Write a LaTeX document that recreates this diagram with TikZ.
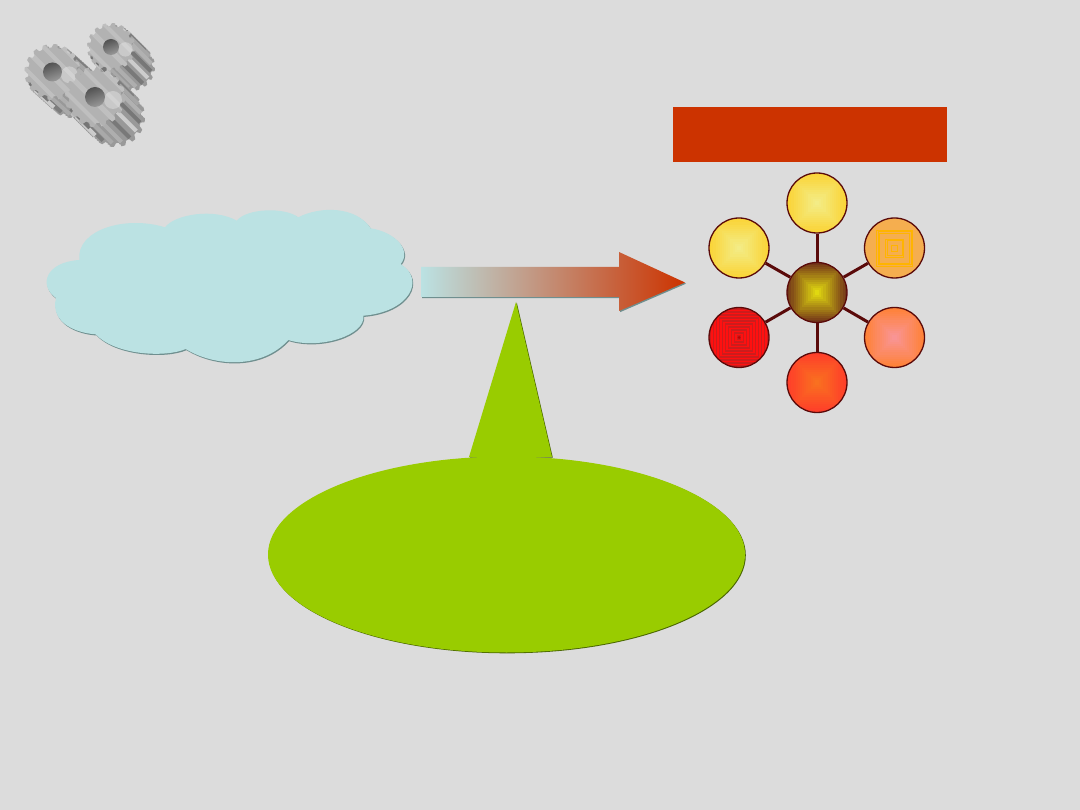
\documentclass[tikz,border=0pt]{standalone}
\definecolor{page}{HTML}{DCDCDC}
\definecolor{cloudfill}{HTML}{BBE2E3}
\definecolor{cloudedge}{HTML}{6F8F8F}
\definecolor{banner}{HTML}{CC3300}
\definecolor{leaf}{HTML}{99CC00}
\definecolor{leafedge}{HTML}{4A6600}
\definecolor{spoke}{HTML}{5A0A0A}
\definecolor{sunO}{HTML}{FBD230}\definecolor{sunI}{HTML}{F3EC86}
\definecolor{ambO}{HTML}{F5AE4F}\definecolor{ambI}{HTML}{FFB400}
\definecolor{peachO}{HTML}{FF8030}\definecolor{peachI}{HTML}{F99494}
\definecolor{flameO}{HTML}{FF3A2A}\definecolor{flameI}{HTML}{F97020}
\definecolor{rubyO}{HTML}{CC1C1C}\definecolor{rubyL}{HTML}{FF1010}
\definecolor{hubO}{HTML}{6B2A1A}\definecolor{hubI}{HTML}{E0D810}
% concentric square gradient filling a round node
\newcommand\squarerings[2]{%
  \foreach \i in {0,...,14}{%
    \pgfmathsetmacro\hs{32*(1-\i/15)}%
    \pgfmathsetmacro\mixp{100*\i/14}%
    \fill[#2!\mixp!#1] ([shift={(-\hs,-\hs)}]path picture bounding box.center)
      rectangle ([shift={(\hs,\hs)}]path picture bounding box.center);
  }}
% thin square outlines laid over the gradient
\newcommand\squarelines[3]{%
  \foreach \hs in {#2}{%
    \draw[#1,line width=#3] ([shift={(-\hs,-\hs)}]path picture bounding box.center)
      rectangle ([shift={(\hs,\hs)}]path picture bounding box.center);
  }}
% toothed wheel: swept body, ribs, top face with bands, and bore
\newcommand\gearfig[6]{% cx cy radius dx dy bore
  \begin{scope}[shift={(#1,#2)}]
    \def\rim{plot[domain=0:360,samples=145] (\x:{#3*(0.87+0.13*max(0,min(1,0.5+1.5*sin(16*\x))))})}
    \foreach \k in {0.1,0.2,...,1.0}{
      \fill[black!40,shift={(#4*\k,#5*\k)}] \rim -- cycle;
    }
    \foreach \a in {-66,-46,...,154}{
      \pgfmathsetmacro\g{38+18*sin(\a*7.3+20)}
      \draw[black!\g,line width=4pt] (\a:{#3*0.9}) -- ++({#4*0.95},{#5*0.95});
    }
    \begin{scope}
      \clip \rim -- cycle;
      \fill[black!30] (-#3-2,-#3-2) rectangle (#3+2,#3+2);
      \foreach \o/\w in {-22/5,-12/4,-2/5,8/4,18/5}{
        \draw[white,opacity=.18,line width=\w pt] (-#3-8+\o,-#3-8-\o) -- (#3+8+\o,#3+8-\o);
      }
      \fill[white,opacity=.30] (#3*.6,#3*.1) circle ({#3*.3});
    \end{scope}
    \shade[left color=black!68,right color=black!40,shading angle=20] (0,0) circle (#6);
  \end{scope}}
\tikzset{
  ball/.style={circle,draw=spoke,line width=1.3pt,minimum size=60pt,inner sep=0pt},
  spokeline/.style={draw=spoke,line width=3pt},
}
\begin{document}
\begin{tikzpicture}[x=1pt,y=-1pt]
\useasboundingbox (0,0) rectangle (1080,810);
\fill[page] (0,0) rectangle (1080,810);

% gears
\gearfig{111}{47}{24}{20}{20}{8}
\gearfig{52.5}{72}{28}{20}{18}{9.5}
\gearfig{95}{97}{30}{20}{20}{10}

% cloud and its edge shadow
\def\cloudoutline{(79.3,260)
  .. controls (76,230) and (125,215) .. (165,227.3)
  .. controls (175,214) and (215,208) .. (236.7,220.7)
  .. controls (247,208) and (285,207) .. (298.3,217.3)
  .. controls (320,206) and (356,206) .. (370.7,228.3)
  .. controls (395,232) and (412,250) .. (400.7,264)
  .. controls (426,280) and (409,312) .. (363.3,315.7)
  .. controls (366,335) and (320,350) .. (288.3,340)
  .. controls (262,369) and (215,367) .. (185.7,349)
  .. controls (165,358) and (115,355) .. (95.7,334.3)
  .. controls (75,333) and (50,322) .. (56,298)
  .. controls (38,285) and (46,262) .. (79.3,260) -- cycle}
\fill[cloudedge,shift={(0.8,1.2)}] \cloudoutline;
\fill[cloudfill] \cloudoutline;

% block arrow
\def\arrowoutline{(421,267) -- (619,267) -- (619,252) -- (685,282.5) -- (619,311) -- (619,297) -- (421,297) -- cycle}
\fill[cloudedge,shift={(1,1.2)}] \arrowoutline;
\shade[left color=cloudfill,right color=banner] \arrowoutline;

% speech bubble
\fill[leafedge,shift={(0.8,0.6)}] (469,457) -- (516,302) -- (552,457) -- cycle;
\fill[leafedge,shift={(0.8,0.8)}] (506.5,554.5) ellipse [x radius=238.5,y radius=98];
\fill[leaf] (469,457) -- (516,302) -- (552,457) -- cycle;
\fill[leaf] (506.5,554.5) ellipse [x radius=238.5,y radius=98];

% title bar
\fill[banner] (673,107) rectangle (947,162);

% hub and satellites
\node[ball,path picture={\squarerings{hubO}{hubI}}] (hub) at (817,292.5) {};
\node[ball,path picture={\squarerings{sunO}{sunI}}] (top) at (817,203) {};
\node[ball,path picture={\squarerings{sunO}{sunI}}] (upleft) at (739,248) {};
\node[ball,path picture={\squarerings{ambO}{ambO}\squarelines{ambI}{3,7.5,9,15,16.5,18}{0.9pt}}] (upright) at (894.5,248) {};
\node[ball,path picture={\squarerings{peachO}{peachI}}] (downright) at (894.5,337.5) {};
\node[ball,path picture={\squarerings{flameO}{flameI}}] (bottom) at (817,382.5) {};
\node[ball,path picture={\squarerings{rubyO}{rubyO}\squarelines{rubyL}{3,6,9,12,15,18,21,24,27}{1.4pt}\fill[black!25!red] (path picture bounding box.center) circle (1.5pt);}] (downleft) at (739,337.5) {};
\foreach \n in {top,upleft,upright,downright,bottom,downleft}{
  \draw[spokeline] (hub) -- (\n);
}
\end{tikzpicture}
\end{document}
